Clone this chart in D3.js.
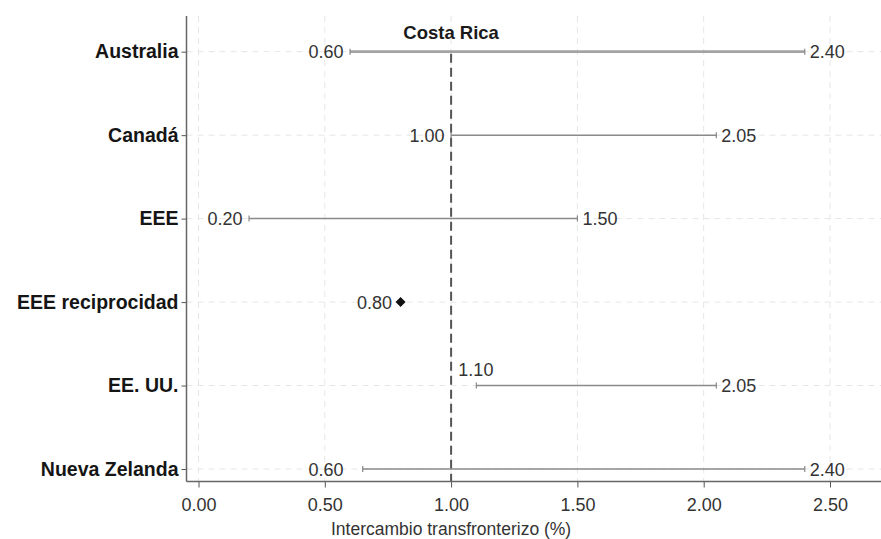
<!DOCTYPE html>
<html><head><meta charset="utf-8">
<script src="https://cdn.jsdelivr.net/npm/d3@7"></script>
<style>body{margin:0;background:#fff;}svg{display:block;}</style>
</head><body>
<svg id="c" width="881" height="539"></svg>
<script>
const categories = ["Australia","Canadá","EEE","EEE reciprocidad","EE. UU.","Nueva Zelanda"];
const minValues = [0.60, 1.00, 0.20, 0.80, 1.10, 0.65];
const maxValues = [2.40, 2.05, 1.50, null, 2.05, 2.40];
const minLabels = ["0.60","1.00","0.20","0.80","1.10","0.60"];
const maxLabels = ["2.40","2.05","1.50","","2.05","2.40"];
const xTicks = [0, 0.5, 1, 1.5, 2, 2.5];
const refValue = 1.0;
const refLabel = "Costa Rica";
const xTitle = "Intercambio transfronterizo (%)";

const svg = d3.select("#c");
const font = "'Liberation Sans', Arial, sans-serif";
const x = d3.scaleLinear().domain([0, 2.5]).range([198.5, 830]);
const y = d3.scalePoint().domain(categories).range([51.7, 469]);
const axisX = 186.5, axisY = 481.5, plotTop = 16;

// grid
svg.append("g").selectAll("line").data(xTicks).join("line")
  .attr("x1", d => x(d)).attr("x2", d => x(d)).attr("y1", plotTop).attr("y2", axisY)
  .attr("stroke", "#e6e6e6").attr("stroke-width", 1).attr("stroke-dasharray", "6,5");
svg.append("g").selectAll("line").data(categories).join("line")
  .attr("x1", axisX).attr("x2", 881).attr("y1", d => y(d)).attr("y2", d => y(d))
  .attr("stroke", "#e6e6e6").attr("stroke-width", 1).attr("stroke-dasharray", "6,5");

// reference line
svg.append("line").attr("x1", x(refValue)).attr("x2", x(refValue))
  .attr("y1", y(categories[0]) + 2).attr("y2", axisY)
  .attr("stroke", "#555").attr("stroke-width", 2).attr("stroke-dasharray", "9,5");
svg.append("text").attr("x", x(refValue)).attr("y", 38.5).attr("text-anchor", "middle")
  .attr("font-family", font).attr("font-weight", "bold").attr("font-size", 18.5)
  .attr("fill", "#1a1a1a").text(refLabel);

// axes
const yAxis = svg.append("g").attr("transform", `translate(${axisX},0)`)
  .call(d3.axisLeft(y).tickSize(5).tickPadding(3));
yAxis.select(".domain").remove();
yAxis.selectAll(".tick line").attr("stroke", "#555");
yAxis.selectAll("text").attr("font-family", font).attr("font-weight", "bold")
  .attr("font-size", 19.5).attr("fill", "#151515");
svg.append("line").attr("x1", axisX).attr("x2", axisX).attr("y1", plotTop).attr("y2", axisY)
  .attr("stroke", "#666").attr("stroke-width", 1.5);

const xAxis = svg.append("g").attr("transform", `translate(0,${axisY})`)
  .call(d3.axisBottom(x).tickValues(xTicks).tickFormat(d3.format(".2f")).tickSize(6).tickPadding(10.5));
xAxis.select(".domain").remove();
xAxis.selectAll(".tick line").attr("stroke", "#555");
xAxis.selectAll("text").attr("font-family", font).attr("font-size", 18).attr("fill", "#333");
svg.append("line").attr("x1", axisX).attr("x2", 881).attr("y1", axisY).attr("y2", axisY)
  .attr("stroke", "#666").attr("stroke-width", 1.5);
svg.append("text").attr("x", x(1)).attr("y", 535).attr("text-anchor", "middle")
  .attr("font-family", font).attr("font-size", 17.5).attr("fill", "#333").text(xTitle);

// ranges
const rows = categories.map((c, i) => ({c, lo: minValues[i], hi: maxValues[i], ll: minLabels[i], hl: maxLabels[i], i}));
const g = svg.append("g");
const vfs = 18;
rows.forEach(r => {
  const yy = y(r.c);
  if (r.hi != null) {
    const sw = r.i === 0 ? 2.8 : 1.5;
    const col = r.i === 0 ? "#a3a3a3" : "#8a8a8a";
    g.append("line").attr("x1", x(r.lo)).attr("x2", x(r.hi)).attr("y1", yy).attr("y2", yy)
      .attr("stroke", col).attr("stroke-width", sw);
    [r.lo, r.hi].forEach(v => g.append("line").attr("x1", x(v)).attr("x2", x(v))
      .attr("y1", yy - 3).attr("y2", yy + 3).attr("stroke", "#888").attr("stroke-width", 1.2));
    g.append("text").attr("x", x(r.hi) + 5).attr("y", yy + 6.5)
      .attr("font-family", font).attr("font-size", vfs).attr("fill", "#333").text(r.hl);
    if (r.c === "EE. UU.") {
      g.append("text").attr("x", x(r.lo) - 18).attr("y", yy - 9.5)
        .attr("font-family", font).attr("font-size", vfs).attr("fill", "#333").text(r.ll);
    } else {
      const lx = r.c === "Nueva Zelanda" ? x(0.6) : x(r.lo);
      g.append("text").attr("x", lx - 6.5).attr("y", yy + 6.5)
        .attr("text-anchor", "end")
        .attr("font-family", font).attr("font-size", vfs).attr("fill", "#333").text(r.ll);
    }
  } else {
    g.append("path").attr("transform", `translate(${x(r.lo)},${yy}) rotate(45)`)
      .attr("d", d3.symbol(d3.symbolSquare, 50)()).attr("fill", "#111");
    g.append("text").attr("x", x(r.lo) - 8.5).attr("y", yy + 6.5).attr("text-anchor", "end")
      .attr("font-family", font).attr("font-size", vfs).attr("fill", "#333").text(r.ll);
  }
});
</script>
</body></html>
